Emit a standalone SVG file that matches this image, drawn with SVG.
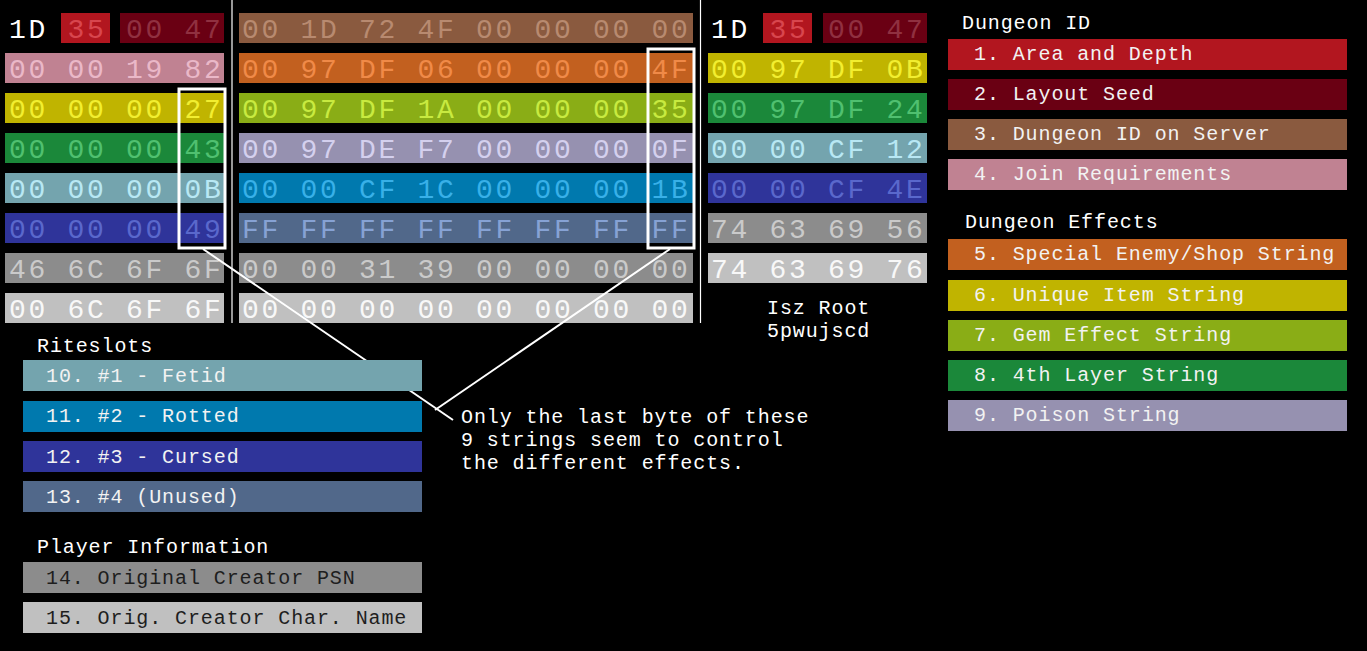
<svg xmlns="http://www.w3.org/2000/svg" width="1367" height="651" viewBox="0 0 1367 651">
<style>
.hex{font-family:"Liberation Mono","DejaVu Sans Mono",monospace;font-size:28px;letter-spacing:2.7px}
.lg{font-family:"Liberation Mono","DejaVu Sans Mono",monospace;font-size:20px;letter-spacing:0.9px;fill:#f2f2f2}
.hd{font-family:"Liberation Mono","DejaVu Sans Mono",monospace;font-size:20px;letter-spacing:0.9px;fill:#ffffff}
.dk{fill:#1e1e1e}
.c-red{fill:#b2161f}.t-red{fill:#d8464e}
.c-dred{fill:#6a0013}.t-dred{fill:#903040}
.c-brown{fill:#8a5a3f}.t-brown{fill:#b88a70}
.c-pink{fill:#c08292}.t-pink{fill:#eab8c8}
.c-orange{fill:#c2601f}.t-orange{fill:#f08a48}
.c-yellow{fill:#c0b400}.t-yellow{fill:#f2ee30}
.c-yg{fill:#8aad16}.t-yg{fill:#c8ea40}
.c-green{fill:#1b883a}.t-green{fill:#50c070}
.c-lav{fill:#9691b0}.t-lav{fill:#d4d0ee}
.c-teal{fill:#74a4ae}.t-teal{fill:#b8e8f4}
.c-blue{fill:#0079ae}.t-blue{fill:#38b0e8}
.c-dblue{fill:#2f349a}.t-dblue{fill:#5a68cc}
.c-slate{fill:#51688a}.t-slate{fill:#86a2d4}
.c-gray{fill:#8c8c8c}.t-gray{fill:#cacaca}
.c-lgray{fill:#c0c0c0}.t-lgray{fill:#f8f8f8}
.sep{stroke:#ffffff;stroke-width:1.2}
.hl{fill:none;stroke:#ffffff;stroke-width:3}
.conn{stroke:#ffffff;stroke-width:2;fill:none}
</style>
<rect x="0" y="0" width="1367" height="651" fill="#000000"/>

<g id="separators">
<line class="sep" x1="232" y1="0" x2="232" y2="323"/>
<line class="sep" x1="700.5" y1="0" x2="700.5" y2="323"/>
</g>

<g id="left-grid">
<rect class="c-red" x="61" y="13" width="49" height="30"/>
<rect class="c-dred" x="120" y="13" width="104" height="30"/>
<text class="hex" x="9" y="38"><tspan fill="#ffffff">1D</tspan> <tspan class="t-red">35</tspan> <tspan class="t-dred">00 47</tspan></text>
<rect class="c-pink" x="5" y="53" width="219" height="30"/>
<text class="hex t-pink" x="9" y="78">00 00 19 82</text>
<rect class="c-yellow" x="5" y="93" width="219" height="30"/>
<text class="hex t-yellow" x="9" y="118">00 00 00 27</text>
<rect class="c-green" x="5" y="133" width="219" height="30"/>
<text class="hex t-green" x="9" y="158">00 00 00 43</text>
<rect class="c-teal" x="5" y="173" width="219" height="30"/>
<text class="hex t-teal" x="9" y="198">00 00 00 0B</text>
<rect class="c-dblue" x="5" y="213" width="219" height="30"/>
<text class="hex t-dblue" x="9" y="238">00 00 00 49</text>
<rect class="c-gray" x="5" y="253" width="219" height="30"/>
<text class="hex t-gray" x="9" y="278">46 6C 6F 6F</text>
<rect class="c-lgray" x="5" y="293" width="219" height="30"/>
<text class="hex t-lgray" x="9" y="318">00 6C 6F 6F</text>
</g>

<g id="middle-grid">
<rect class="c-brown" x="239" y="13" width="454" height="30"/>
<text class="hex t-brown" x="242" y="38">00 1D 72 4F 00 00 00 00</text>
<rect class="c-orange" x="239" y="53" width="454" height="30"/>
<text class="hex t-orange" x="242" y="78">00 97 DF 06 00 00 00 4F</text>
<rect class="c-yg" x="239" y="93" width="454" height="30"/>
<text class="hex t-yg" x="242" y="118">00 97 DF 1A 00 00 00 35</text>
<rect class="c-lav" x="239" y="133" width="454" height="30"/>
<text class="hex t-lav" x="242" y="158">00 97 DE F7 00 00 00 0F</text>
<rect class="c-blue" x="239" y="173" width="454" height="30"/>
<text class="hex t-blue" x="242" y="198">00 00 CF 1C 00 00 00 1B</text>
<rect class="c-slate" x="239" y="213" width="454" height="30"/>
<text class="hex t-slate" x="242" y="238">FF FF FF FF FF FF FF FF</text>
<rect class="c-gray" x="239" y="253" width="454" height="30"/>
<text class="hex t-gray" x="242" y="278">00 00 31 39 00 00 00 00</text>
<rect class="c-lgray" x="239" y="293" width="454" height="30"/>
<text class="hex t-lgray" x="242" y="318">00 00 00 00 00 00 00 00</text>
</g>

<g id="right-grid">
<rect class="c-red" x="763" y="13" width="49" height="30"/>
<rect class="c-dred" x="823" y="13" width="104" height="30"/>
<text class="hex" x="711" y="38"><tspan fill="#ffffff">1D</tspan> <tspan class="t-red">35</tspan> <tspan class="t-dred">00 47</tspan></text>
<rect class="c-yellow" x="708" y="53" width="219" height="30"/>
<text class="hex t-yellow" x="711" y="78">00 97 DF 0B</text>
<rect class="c-green" x="708" y="93" width="219" height="30"/>
<text class="hex t-green" x="711" y="118">00 97 DF 24</text>
<rect class="c-teal" x="708" y="133" width="219" height="30"/>
<text class="hex t-teal" x="711" y="158">00 00 CF 12</text>
<rect class="c-dblue" x="708" y="173" width="219" height="30"/>
<text class="hex t-dblue" x="711" y="198">00 00 CF 4E</text>
<rect class="c-gray" x="708" y="213" width="219" height="30"/>
<text class="hex t-gray" x="711" y="238">74 63 69 56</text>
<rect class="c-lgray" x="708" y="253" width="219" height="30"/>
<text class="hex t-lgray" x="711" y="278">74 63 69 76</text>
<text class="hd" x="767" y="314">Isz Root</text>
<text class="hd" x="767" y="337">5pwujscd</text>
</g>

<g id="highlights">
<rect class="hl" x="179" y="89" width="46" height="159"/>
<rect class="hl" x="648" y="49" width="46" height="199"/>
</g>

<g id="connectors">
<line class="conn" x1="203" y1="249" x2="453" y2="420"/>
<line class="conn" x1="670" y1="249" x2="435" y2="410"/>
</g>

<g id="note">
<text class="hd" x="461" y="423">Only the last byte of these</text>
<text class="hd" x="461" y="446">9 strings seem to control</text>
<text class="hd" x="461" y="469">the different effects.</text>
</g>

<g id="legend-dungeon-id">
<text class="hd" x="962" y="29">Dungeon ID</text>
<rect class="c-red" x="948" y="39" width="399" height="31"/>
<text class="lg" x="974" y="60">1. Area and Depth</text>
<rect class="c-dred" x="948" y="79" width="399" height="31"/>
<text class="lg" x="974" y="100">2. Layout Seed</text>
<rect class="c-brown" x="948" y="119" width="399" height="31"/>
<text class="lg" x="974" y="140">3. Dungeon ID on Server</text>
<rect class="c-pink" x="948" y="159" width="399" height="31"/>
<text class="lg" x="974" y="180">4. Join Requirements</text>
</g>

<g id="legend-dungeon-effects">
<text class="hd" x="965" y="228">Dungeon Effects</text>
<rect class="c-orange" x="948" y="239" width="399" height="31"/>
<text class="lg" x="974" y="260">5. Special Enemy/Shop String</text>
<rect class="c-yellow" x="948" y="280" width="399" height="31"/>
<text class="lg" x="974" y="301">6. Unique Item String</text>
<rect class="c-yg" x="948" y="320" width="399" height="31"/>
<text class="lg" x="974" y="341">7. Gem Effect String</text>
<rect class="c-green" x="948" y="360" width="399" height="31"/>
<text class="lg" x="974" y="381">8. 4th Layer String</text>
<rect class="c-lav" x="948" y="400" width="399" height="31"/>
<text class="lg" x="974" y="421">9. Poison String</text>
</g>

<g id="legend-riteslots">
<text class="hd" x="37" y="352">Riteslots</text>
<rect class="c-teal" x="23" y="360" width="399" height="31"/>
<text class="lg" x="46" y="382">10. #1 - Fetid</text>
<rect class="c-blue" x="23" y="401" width="399" height="31"/>
<text class="lg" x="46" y="422">11. #2 - Rotted</text>
<rect class="c-dblue" x="23" y="441" width="399" height="31"/>
<text class="lg" x="46" y="463">12. #3 - Cursed</text>
<rect class="c-slate" x="23" y="481" width="399" height="31"/>
<text class="lg" x="46" y="503">13. #4 (Unused)</text>
</g>

<g id="legend-player">
<text class="hd" x="37" y="553">Player Information</text>
<rect class="c-gray" x="23" y="562" width="399" height="31"/>
<text class="lg dk" x="46" y="584">14. Original Creator PSN</text>
<rect class="c-lgray" x="23" y="602" width="399" height="31"/>
<text class="lg dk" x="46" y="624">15. Orig. Creator Char. Name</text>
</g>
</svg>
